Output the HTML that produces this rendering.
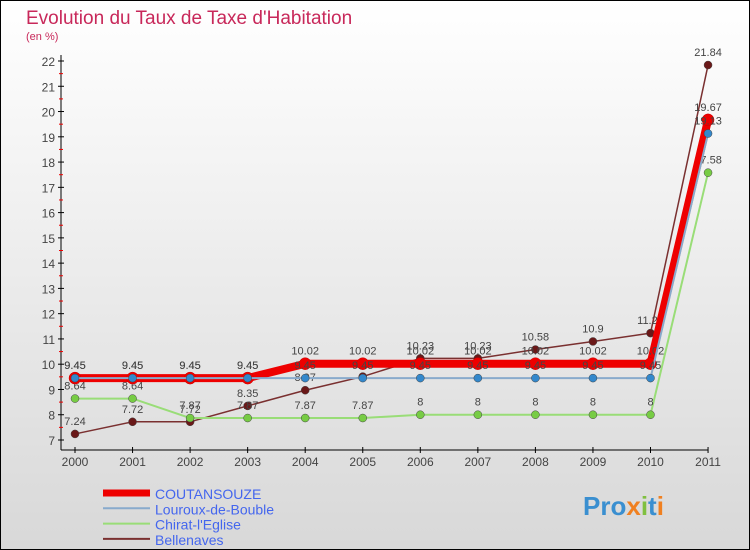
<!DOCTYPE html>
<html><head><meta charset="utf-8"><style>
body{margin:0}
#c{width:750px;height:550px;position:relative;overflow:hidden;font-family:"Liberation Sans",sans-serif}
</style></head><body>
<div id="c">
<svg id="s" width="750" height="550" xmlns="http://www.w3.org/2000/svg">
<defs><linearGradient id="bg" x1="0" y1="0" x2="0" y2="1"><stop offset="0" stop-color="#ffffff"/><stop offset="1" stop-color="#d8d8d8"/></linearGradient></defs>
<rect x="0.5" y="0.5" width="749" height="549" fill="url(#bg)" stroke="#000"/>
<text x="26" y="24" font-size="19" fill="#c8285a">Evolution du Taux de Taxe d'Habitation</text>
<text x="26" y="40" font-size="11" fill="#c8285a">(en %)</text>
<g id="axes"></g><g id="plot"></g><g id="legend"></g>
<text x="583" y="515" font-size="26" font-weight="bold" fill="#3a8fd0">Pro<tspan fill="#f08020">x</tspan><tspan fill="#80c040">i</tspan>t<tspan fill="#f08020">i</tspan></text>
</svg>
</div>
<script>
const years=[2000,2001,2002,2003,2004,2005,2006,2007,2008,2009,2010,2011];
const coutansouze=[9.45,9.45,9.45,9.45,10.02,10.02,10.02,10.02,10.02,10.02,10.02,19.67];
const louroux=[9.45,9.45,9.45,9.45,9.45,9.45,9.45,9.45,9.45,9.45,9.45,19.13];
const chirat=[8.64,8.64,7.87,7.87,7.87,7.87,8,8,8,8,8,17.58];
const bellenaves=[7.24,7.72,7.72,8.35,8.97,9.51,10.23,10.23,10.58,10.9,11.23,21.84];
const yTicks=[7,8,9,10,11,12,13,14,15,16,17,18,19,20,21,22];
const NS="http://www.w3.org/2000/svg";
const x=i=>75+i*57.55;
const y=v=>440-(v-7)*(379/15);
function mk(tag,attrs,parent){const e=document.createElementNS(NS,tag);for(const k in attrs)e.setAttribute(k,attrs[k]);parent.appendChild(e);return e;}
const ax=document.getElementById('axes'),pl=document.getElementById('plot'),lg=document.getElementById('legend');
let a=mk('line',{x1:61,y1:55,x2:61,y2:450,stroke:'#000'},ax);


a=mk('line',{x1:61,y1:450,x2:708,y2:450,stroke:'#000'},ax);


yTicks.forEach(t=>{
 mk('line',{x1:58,y1:y(t),x2:64,y2:y(t),stroke:'#000'},ax);
 if(t<22) mk('line',{x1:59,y1:y(t+0.5),x2:63,y2:y(t+0.5),stroke:'#e00'},ax);
 const tx=mk('text',{x:55,y:y(t)+5,'font-size':12,fill:'#444','text-anchor':'end'},ax);tx.textContent=t;
 
 
});
years.forEach((yr,i)=>{
 mk('line',{x1:x(i),y1:447,x2:x(i),y2:453,stroke:'#000'},ax);
 const tx=mk('text',{x:x(i),y:466,'font-size':12,fill:'#444','text-anchor':'middle'},ax);tx.textContent=yr;
 
 
});
const series=[
 {name:'bellenaves',label:'Bellenaves',d:bellenaves,c:'#7a3030',w:1.5,dot:'#6a1818',r:4},
 {name:'chirat',label:"Chirat-l'Eglise",d:chirat,c:'#99dd77',w:2,dot:'#77cc44',r:4},
 {name:'coutansouze',label:'COUTANSOUZE',d:coutansouze,c:'#ee0000',w:8,dot:'#ee0000',r:6},
 {name:'louroux',label:'Louroux-de-Bouble',d:louroux,c:'#88aacc',w:2,dot:'#3388cc',r:4}
];
series.forEach(s=>{
 const g=mk('g',{},pl);
 
 
 mk('polyline',{points:s.d.map((v,i)=>x(i)+','+y(v)).join(' '),fill:'none',stroke:s.c,'stroke-width':s.w,'stroke-linejoin':'round'},g);
 s.d.forEach((v,i)=>{
  const p=mk('circle',{cx:x(i),cy:y(v),r:s.r,fill:s.dot,stroke:s.name==='coutansouze'?'#c00':'#444','stroke-width':0.5},g);
  
  
  const t=mk('text',{x:x(i),y:y(v)-9,'font-size':11,fill:'#444','text-anchor':'middle'},g);t.textContent=v;
  
  
 });
});
const lOrder=[series[2],series[3],series[1],series[0]];
lOrder.forEach((s,i)=>{
 const ly=493+i*15.3;
 const g=mk('g',{},lg);
 
 
 mk('line',{x1:103,y1:ly,x2:150,y2:ly,stroke:s.c,'stroke-width':s.name==='coutansouze'?7:2},g);
 const t=mk('text',{x:155,y:ly+6,'font-size':14,fill:'#4466ee'},g);t.textContent=s.label;
});
</script>
</body></html>
